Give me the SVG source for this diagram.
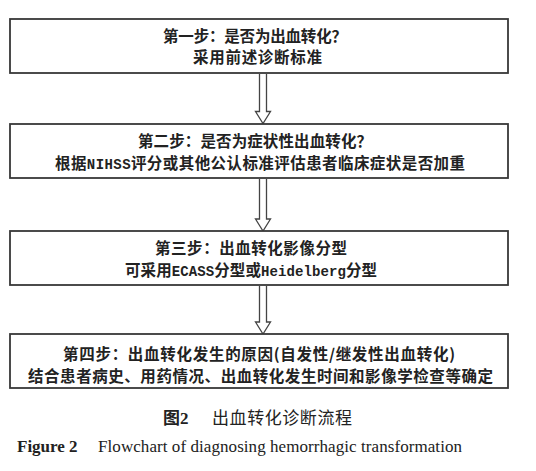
<svg xmlns="http://www.w3.org/2000/svg" width="536" height="471" viewBox="0 0 536 471">
<style>
.box{fill:#fff;stroke:#383838;stroke-width:1.8}
.arr{fill:#fff;stroke:#444;stroke-width:1.3;stroke-linejoin:miter}
.t{font-family:"Noto Sans CJK SC","Noto Sans",sans-serif;font-size:15.5px;font-weight:700;fill:#222;text-anchor:middle}
.m{font-family:"Liberation Mono",monospace;font-size:14px;font-weight:700}
.cap{font-family:"Noto Sans CJK SC",sans-serif;font-size:17px;fill:#222}
.en{font-family:"Liberation Serif",serif;font-size:17px;fill:#222}
</style>
<rect width="536" height="471" fill="#fff"/>
<g id="connectors">
<path class="arr" d="M259.5,74 V111.5 H255.5 L263,123.5 L270.5,111.5 H266.5 V74"/>
<path class="arr" d="M259.5,179 V219 H255.5 L263,231 L270.5,219 H266.5 V179"/>
<path class="arr" d="M259.5,286 V322 H255.5 L263,334 L270.5,322 H266.5 V286"/>
</g>
<g id="step1">
<rect class="box" x="10" y="19" width="498" height="54"/>
<text class="t" x="255" y="41.5" textLength="184" lengthAdjust="spacing">第一步：是否为出血转化？</text>
<text class="t" x="257.5" y="62.5" textLength="129" lengthAdjust="spacing">采用前述诊断标准</text>
</g>
<g id="step2">
<rect class="box" x="10" y="124" width="498" height="54"/>
<text class="t" x="255" y="147" textLength="234" lengthAdjust="spacing">第二步：是否为症状性出血转化？</text>
<text class="t" x="260" y="169" textLength="410" lengthAdjust="spacing">根据<tspan class="m">NIHSS</tspan>评分或其他公认标准评估患者临床症状是否加重</text>
</g>
<g id="step3">
<rect class="box" x="10" y="231" width="498" height="54"/>
<text class="t" x="251" y="254" textLength="192" lengthAdjust="spacing">第三步：出血转化影像分型</text>
<text class="t" x="251" y="276" textLength="252" lengthAdjust="spacing">可采用<tspan class="m">ECASS</tspan>分型或<tspan class="m">Heidelberg</tspan>分型</text>
</g>
<g id="step4">
<rect class="box" x="10" y="334" width="498" height="54"/>
<text class="t" x="259" y="360" textLength="392" lengthAdjust="spacing">第四步：出血转化发生的原因(自发性/继发性出血转化)</text>
<text class="t" x="260.5" y="381.5" textLength="465" lengthAdjust="spacing">结合患者病史、用药情况、出血转化发生时间和影像学检查等确定</text>
</g>
<g id="caption">
<text class="cap" x="163" y="424"><tspan font-weight="700">图</tspan><tspan font-family="Liberation Serif" font-weight="700">2</tspan></text>
<text class="cap" x="212" y="424" textLength="140" lengthAdjust="spacing">出血转化诊断流程</text>
<text class="en" x="17" y="452"><tspan font-weight="700">Figure 2</tspan></text>
<text class="en" x="98" y="452" textLength="364" lengthAdjust="spacing">Flowchart of diagnosing hemorrhagic transformation</text>
</g>
</svg>
